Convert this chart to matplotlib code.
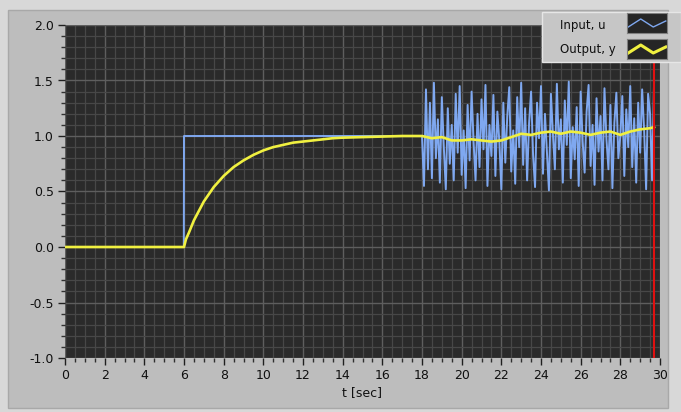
import matplotlib.pyplot as plt
from matplotlib.patches import Rectangle
from matplotlib.ticker import MultipleLocator

# step part of the input / output
t_step = [0, 5.99, 6.0, 18.0]
u_step = [0, 0, 1.0, 1.0]

t_resp = [0, 6.0, 6.1, 6.25, 6.5, 7.0, 7.5, 8.0, 8.5, 9.0, 9.5, 10.0, 10.5, 11.0,
          11.5, 12.0, 12.5, 13.0, 13.5, 14.0, 15.0, 16.0, 17.0, 18.0]
y_resp = [0, 0, 0.07, 0.13, 0.24, 0.41, 0.54, 0.64, 0.72, 0.78, 0.83, 0.87, 0.90, 0.92,
          0.94, 0.95, 0.96, 0.97, 0.98, 0.985, 0.99, 0.995, 1.0, 1.0]

# noisy input from t = 18.0 s, one value every 0.1 s
u_noise = [1.00, 0.55, 1.42, 0.70, 1.30, 0.62, 1.48, 0.80, 1.15, 0.58,
           1.35, 0.90, 0.52, 1.25, 0.75, 1.10, 0.60, 1.38, 0.85, 1.45,
           0.65, 1.05, 0.53, 1.28, 0.78, 1.40, 0.95, 0.60, 1.20, 0.72,
           1.33, 0.88, 1.46, 0.55, 1.10, 0.82, 1.37, 0.64, 1.22, 0.95,
           0.52, 1.30, 0.76, 1.18, 1.44, 0.68, 1.05, 0.57, 1.35, 0.90,
           1.48, 0.74, 1.25, 0.60, 1.12, 1.40, 0.83, 0.54, 1.30, 0.98,
           1.45, 0.66, 1.20, 0.85, 0.51, 1.38, 1.02, 0.70, 1.47, 0.88,
           1.15, 0.58, 1.32, 0.92, 1.49, 0.62, 1.08, 0.79, 1.26, 0.55,
           1.40, 0.95, 0.67, 1.22, 1.46, 0.73, 1.10, 0.56, 1.34, 0.86,
           1.18, 0.60, 1.43, 0.97, 0.70, 1.28, 0.53, 1.12, 1.39, 0.80,
           1.00, 1.36, 0.64, 1.24, 0.90, 1.45, 0.72, 1.16, 0.58, 1.30,
           0.85, 1.42, 1.05, 0.52, 1.38, 1.20, 0.60, 1.48]
t_noise = [18.0 + 0.1 * i for i in range(len(u_noise))]

# output while the input is noisy
t_out = [18.0, 18.5, 19.0, 19.5, 20.0, 20.5, 21.0, 21.5, 22.0, 22.5, 23.0, 23.5,
         24.0, 24.5, 25.0, 25.5, 26.0, 26.5, 27.0, 27.5, 28.0, 28.5, 29.0, 29.5, 29.7]
y_out = [1.00, 0.98, 0.99, 0.96, 0.96, 0.97, 0.96, 0.95, 0.96, 0.99, 1.02, 1.01,
         1.03, 1.04, 1.02, 1.04, 1.03, 1.01, 1.03, 1.04, 1.01, 1.04, 1.06, 1.07, 1.08]

cursor_t = 29.68

blue = '#7fa8f0'
yellow = '#f0f040'

fig = plt.figure(figsize=(6.81, 4.12), dpi=100, facecolor='#d8d8d8')
fig.patches.append(Rectangle((8 / 681, 4 / 412), 660 / 681, 398 / 412,
                             transform=fig.transFigure, facecolor='#bdbdbd',
                             edgecolor='#a8a8a8', lw=1, zorder=-1))

ax = fig.add_axes([65 / 681, 1 - 358 / 412, 595 / 681, 333 / 412])
ax.set_facecolor('#2a2a2a')

ax.plot(t_step + t_noise, u_step + u_noise, color=blue, lw=1.4, zorder=3)
ax.plot(t_resp + t_out, y_resp + y_out, color=yellow, lw=1.9, zorder=4)
ax.axvline(cursor_t, color='#e01010', lw=1.5, zorder=5)

ax.set_xlim(0, 30)
ax.set_ylim(-1.0, 2.0)
ax.xaxis.set_major_locator(MultipleLocator(2))
ax.xaxis.set_minor_locator(MultipleLocator(0.5))
ax.yaxis.set_major_locator(MultipleLocator(0.5))
ax.yaxis.set_minor_locator(MultipleLocator(0.1))
ax.yaxis.set_major_formatter(lambda v, p: f'{v:.1f}')
ax.grid(which='minor', color='#474747', lw=0.9)
ax.grid(which='major', color='#5e5e5e', lw=1.0)
ax.set_axisbelow(True)
for s in ax.spines.values():
    s.set_visible(False)
ax.tick_params(which='major', length=5, width=1, color='#202020', labelsize=9,
               labelcolor='#101010', pad=3)
ax.tick_params(which='minor', length=3, width=1, color='#303030')
ax.set_xlabel('t [sec]', fontsize=9, color='#101010', labelpad=3)

# legend box in the top right corner
fig.patches.append(Rectangle((542 / 681, 1 - 62 / 412), 139 / 681, 50 / 412,
                             transform=fig.transFigure, facecolor='#c6c6c6',
                             edgecolor='#e6e6e6', lw=1, zorder=5))
fig.text(560 / 681, 1 - 25 / 412, 'Input, u', fontsize=8.5, va='center',
         color='#101010', zorder=6)
fig.text(560 / 681, 1 - 50 / 412, 'Output, y', fontsize=8.5, va='center',
         color='#101010', zorder=6)
for ytop, col, w in [(13, blue, 1.0), (39, yellow, 2.2)]:
    sw = fig.add_axes([627 / 681, 1 - (ytop + 20) / 412, 40 / 681, 20 / 412])
    sw.set_zorder(7)
    sw.set_facecolor('#262626')
    sw.plot([0, 1, 2, 3], [0.3, 0.7, 0.3, 0.6], color=col, lw=w)
    sw.set_xlim(-0.1, 3.1)
    sw.set_ylim(0, 1)
    sw.set_xticks([])
    sw.set_yticks([])
    for s in sw.spines.values():
        s.set_color('#808080')

fig.savefig('out.png', dpi=100, facecolor=fig.get_facecolor())
